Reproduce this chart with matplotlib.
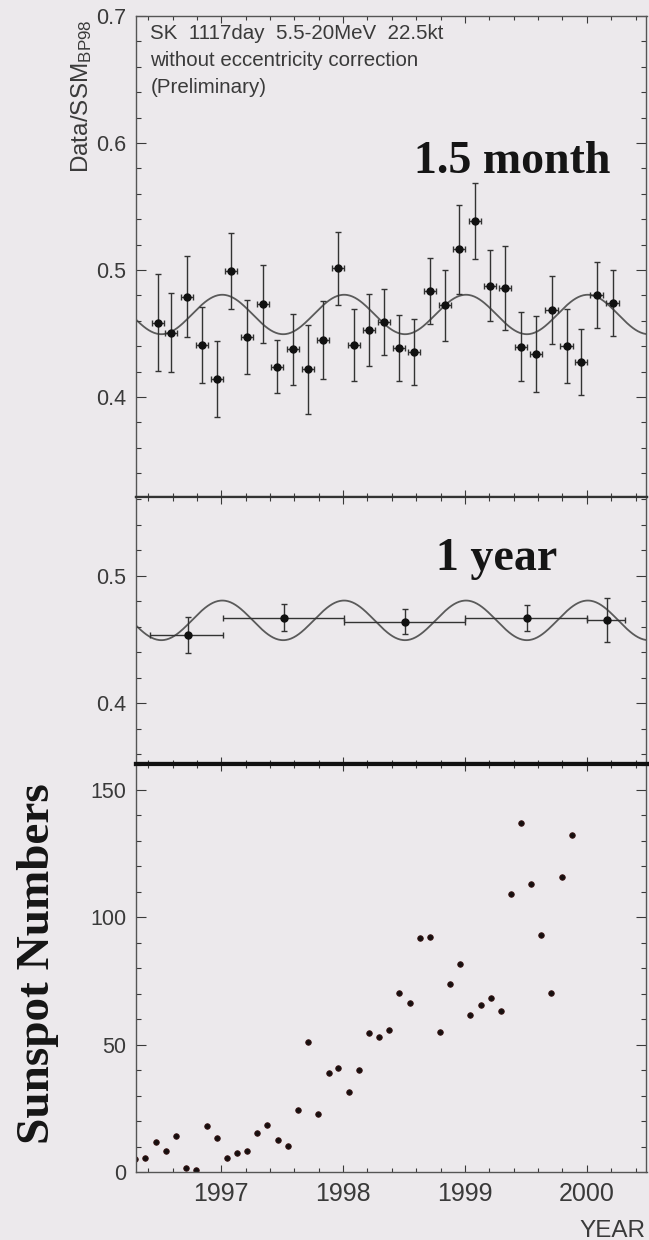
import numpy as np
import matplotlib
matplotlib.use("Agg")
import matplotlib.pyplot as plt
from matplotlib.ticker import MultipleLocator, FormatStrFormatter

plt.rcParams['font.family'] = ['Liberation Sans', 'DejaVu Sans']
plt.rcParams['mathtext.default'] = 'regular'

# --- 1.5 month bins: Data/SSM(BP98) ---
t_15m = [1996.481, 1996.590, 1996.719, 1996.842, 1996.965, 1997.082, 1997.213,
         1997.342, 1997.459, 1997.588, 1997.711, 1997.834, 1997.961, 1998.088,
         1998.211, 1998.336, 1998.461, 1998.584, 1998.716, 1998.836, 1998.953,
         1999.082, 1999.207, 1999.330, 1999.459, 1999.582, 1999.711, 1999.834,
         1999.951, 2000.080, 2000.211]
r_15m = [0.4585, 0.4506, 0.4790, 0.4410, 0.4142, 0.4995, 0.4475, 0.4732,
         0.4239, 0.4376, 0.4218, 0.4449, 0.5013, 0.4410, 0.4528, 0.4593,
         0.4383, 0.4352, 0.4837, 0.4724, 0.5165, 0.5386, 0.4877, 0.4856,
         0.4396, 0.4339, 0.4685, 0.4404, 0.4278, 0.4803, 0.4738]
err_15m = [0.038, 0.031, 0.032, 0.030, 0.030, 0.030, 0.029, 0.031, 0.021, 0.028,
           0.035, 0.031, 0.029, 0.028, 0.028, 0.026, 0.026, 0.026, 0.026, 0.028,
           0.035, 0.030, 0.028, 0.033, 0.027, 0.030, 0.027, 0.029, 0.026, 0.026,
           0.026]
xerr_15m = 0.05

# --- 1 year bins ---
t_1y = [1996.724, 1997.514, 1998.511, 1999.506, 2000.167]
r_1y = [0.4535, 0.4671, 0.4640, 0.4671, 0.4653]
err_1y = [0.0144, 0.0108, 0.0099, 0.0101, 0.0170]
edges_1y = [1996.418, 1997.011, 1998.006, 1999.003, 2000.000, 2000.313]

# --- monthly sunspot numbers ---
t_ssn = [1996.290, 1996.377, 1996.462, 1996.543, 1996.628, 1996.713, 1996.795,
         1996.880, 1996.961, 1997.046, 1997.131, 1997.215, 1997.297, 1997.378,
         1997.463, 1997.544, 1997.629, 1997.711, 1997.795, 1997.880, 1997.961,
         1998.047, 1998.131, 1998.213, 1998.294, 1998.379, 1998.461, 1998.545,
         1998.630, 1998.715, 1998.797, 1998.878, 1998.962, 1999.044, 1999.129,
         1999.211, 1999.295, 1999.380, 1999.461, 1999.546, 1999.628, 1999.709,
         1999.793, 1999.879]
ssn = [5.1, 5.5, 11.9, 8.2, 14.2, 1.6, 0.9, 17.9, 13.3, 5.5, 7.4, 8.3, 15.3,
       18.3, 12.6, 10.2, 24.3, 51.0, 22.7, 38.7, 41.0, 31.4, 40.0, 54.4, 53.1,
       55.8, 70.3, 66.4, 91.8, 92.4, 55.0, 73.8, 81.6, 61.5, 65.7, 68.5, 63.3,
       109.0, 137.1, 113.0, 93.1, 70.3, 116.0, 132.2]

# expected seasonal modulation from the orbit eccentricity
FLUX_MEAN = 0.465
ECC = 0.0167
T_PERIHELION = 1997.0 + 3 / 365.25

XMIN, XMAX = 1996.30, 2000.49
BG = '#ECE9EC'
INK = '#3a3a3a'

W, H = 649, 1240
fig = plt.figure(figsize=(W / 100, H / 100), dpi=100, facecolor=BG)


def px_rect(left, top, right, bottom):
    return [left / W, 1 - bottom / H, (right - left) / W, (bottom - top) / H]


ax1 = fig.add_axes(px_rect(136, 16, 646.5, 497))
ax2 = fig.add_axes(px_rect(136, 497, 646.5, 764))
ax3 = fig.add_axes(px_rect(136, 764, 646.5, 1172))

for ax in (ax1, ax2, ax3):
    ax.set_facecolor(BG)
    ax.set_xlim(XMIN, XMAX)
    ax.xaxis.set_major_locator(MultipleLocator(1))
    ax.xaxis.set_minor_locator(MultipleLocator(0.2))
    ax.tick_params(which='both', direction='in', top=True, right=True,
                   color=INK, width=0.8, labelcolor=INK)
    ax.tick_params(axis='y', which='major', length=7.2, labelsize=15.5, pad=7)
    ax.tick_params(axis='y', which='minor', length=3.6)
    ax.tick_params(axis='x', which='major', length=5)
    ax.tick_params(axis='x', which='minor', length=3.2)
    for s in ax.spines.values():
        s.set_color('#555555')
        s.set_linewidth(1.0)

# model curve
t_model = np.linspace(XMIN, XMAX, 600)
model = FLUX_MEAN * (1 + 2 * ECC * np.cos(2 * np.pi * (t_model - T_PERIHELION)))

# top panel: 1.5 month bins
ax1.plot(t_model, model, color='#5a5a5a', lw=1.3, zorder=1)
ax1.errorbar(t_15m, r_15m, yerr=err_15m, xerr=xerr_15m, fmt='o', ms=5,
             color='#111111', ecolor='#333333', elinewidth=1.0, capsize=2.5,
             capthick=1.0, zorder=2)
ax1.set_ylim(0.3213, 0.7)
ax1.yaxis.set_major_locator(MultipleLocator(0.1))
ax1.yaxis.set_minor_locator(MultipleLocator(0.02))
ax1.yaxis.set_major_formatter(FormatStrFormatter('%g'))
ax1.tick_params(axis='x', labelbottom=False)
ax1.spines['bottom'].set_color('#333333')
ax1.spines['bottom'].set_linewidth(1.6)

header = ['SK  1117day  5.5-20MeV  22.5kt',
          'without eccentricity correction',
          '(Preliminary)']
for i, line in enumerate(header):
    ax1.text(0.028, 0.984 - i * 0.0565, line, transform=ax1.transAxes,
             ha='left', va='top', fontsize=14.8, color=INK)
ax1.text(0.5447, 0.6736, '1.5 month', transform=ax1.transAxes, ha='left',
         va='baseline', fontsize=33, fontweight='bold',
         family='Liberation Serif', color='#151515')
fig.text(82 / W, 1 - 173 / H, r'Data/SSM$_{BP98}$', rotation=90, ha='center',
         va='bottom', fontsize=17.5, color=INK)

# middle panel: 1 year bins
xlo = [t - e for t, e in zip(t_1y, edges_1y[:-1])]
xhi = [e - t for t, e in zip(t_1y, edges_1y[1:])]
ax2.plot(t_model, model, color='#5a5a5a', lw=1.3, zorder=1)
ax2.errorbar(t_1y, r_1y, yerr=err_1y, xerr=[xlo, xhi], fmt='o', ms=5,
             color='#111111', ecolor='#333333', elinewidth=1.0, capsize=2.5,
             capthick=1.0, zorder=2)
ax2.set_ylim(0.3524, 0.5617)
ax2.yaxis.set_major_locator(MultipleLocator(0.1))
ax2.yaxis.set_minor_locator(MultipleLocator(0.02))
ax2.yaxis.set_major_formatter(FormatStrFormatter('%g'))
ax2.tick_params(axis='x', labelbottom=False)
ax2.spines['top'].set_color('#333333')
ax2.spines['top'].set_linewidth(1.6)
ax2.spines['bottom'].set_color('#111111')
ax2.spines['bottom'].set_linewidth(3)
ax2.text(0.587, 0.7266, '1 year', transform=ax2.transAxes, ha='left',
         va='baseline', fontsize=33, fontweight='bold',
         family='Liberation Serif', color='#151515')

# bottom panel: sunspot numbers
ax3.plot(t_ssn, ssn, 'o', ms=4, color='#151010', mec='#3a1212', mew=0.6)
ax3.set_ylim(0, 160.2)
ax3.yaxis.set_major_locator(MultipleLocator(50))
ax3.yaxis.set_minor_locator(MultipleLocator(10))
ax3.tick_params(axis='x', which='major', labelsize=18, pad=7)
ax3.spines['top'].set_color('#111111')
ax3.spines['top'].set_linewidth(3)

fig.text(38 / W, 1 - 964 / H, 'Sunspot Numbers', rotation=90, ha='center',
         va='center', fontsize=34, fontweight='bold', family='Liberation Serif',
         color='#151515')
fig.text(645 / W, 1 - 1237 / H, 'YEAR', ha='right', va='baseline',
         fontsize=17.5, color=INK)

fig.savefig('out.png', dpi=100, facecolor=BG)
